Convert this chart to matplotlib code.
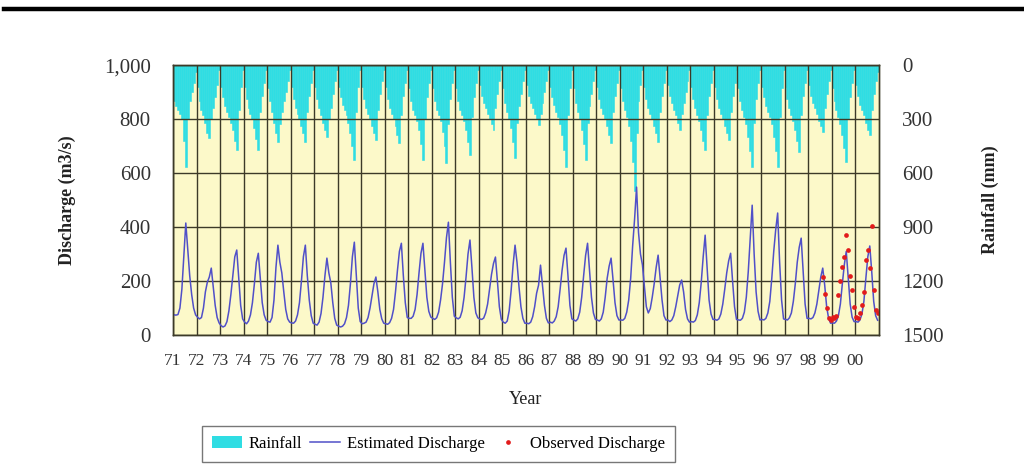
import numpy as np
import matplotlib
matplotlib.use("Agg")
import matplotlib.pyplot as plt
from matplotlib.lines import Line2D
from matplotlib.patches import Patch
from matplotlib.ticker import FuncFormatter

# ── data: monthly values, one row per year (71 … 00) ─────────────────────
years = ["71", "72", "73", "74", "75", "76", "77", "78", "79", "80",
         "81", "82", "83", "84", "85", "86", "87", "88", "89", "90",
         "91", "92", "93", "94", "95", "96", "97", "98", "99", "00"]

rain_mm = [
    [200, 230, 250, 270, 300, 420, 565, 300, 200, 150, 100, 40],
    [120, 200, 250, 280, 320, 380, 406, 300, 240, 180, 110, 30],
    [120, 180, 230, 260, 290, 320, 360, 420, 472, 250, 120, 30],
    [120, 190, 240, 270, 300, 350, 410, 472, 260, 170, 100, 30],
    [130, 200, 260, 320, 380, 426, 330, 260, 200, 150, 90, 30],
    [120, 190, 240, 270, 300, 340, 380, 426, 260, 170, 100, 30],
    [120, 190, 240, 280, 320, 360, 398, 300, 240, 160, 90, 30],
    [120, 180, 220, 250, 280, 320, 380, 450, 528, 260, 120, 30],
    [120, 190, 240, 270, 300, 340, 380, 417, 250, 160, 90, 30],
    [120, 190, 240, 270, 300, 340, 390, 435, 280, 170, 100, 30],
    [130, 200, 250, 280, 310, 360, 440, 528, 300, 180, 100, 30],
    [130, 200, 250, 280, 310, 370, 450, 546, 330, 190, 100, 30],
    [130, 200, 250, 280, 310, 360, 430, 500, 290, 180, 100, 30],
    [110, 170, 210, 240, 270, 300, 330, 361, 240, 160, 90, 30],
    [130, 210, 260, 300, 350, 430, 519, 320, 230, 160, 90, 30],
    [110, 170, 210, 240, 270, 300, 333, 270, 210, 150, 90, 30],
    [120, 180, 220, 260, 290, 330, 390, 470, 565, 280, 130, 30],
    [130, 210, 260, 300, 360, 440, 528, 320, 230, 160, 90, 30],
    [120, 190, 240, 270, 300, 340, 390, 435, 260, 170, 100, 30],
    [130, 200, 250, 290, 340, 420, 540, 700, 380, 200, 110, 30],
    [120, 190, 240, 270, 300, 340, 380, 426, 260, 170, 100, 30],
    [110, 170, 210, 250, 280, 320, 361, 270, 210, 150, 90, 30],
    [120, 190, 240, 280, 310, 360, 420, 472, 280, 170, 100, 30],
    [120, 190, 240, 270, 300, 340, 380, 417, 260, 170, 100, 30],
    [130, 200, 250, 290, 330, 400, 480, 565, 320, 190, 100, 30],
    [120, 180, 230, 260, 290, 330, 400, 480, 565, 290, 130, 30],
    [120, 190, 240, 280, 310, 360, 420, 481, 280, 170, 100, 30],
    [110, 170, 210, 240, 270, 310, 340, 370, 240, 160, 90, 30],
    [130, 200, 250, 290, 330, 390, 460, 537, 300, 180, 100, 30],
    [110, 170, 220, 250, 280, 320, 360, 389, 250, 160, 90, 40],
]

discharge_est = [
    [75, 74, 76, 100, 170, 290, 415, 320, 220, 150, 100, 75],
    [66, 60, 65, 100, 160, 196, 215, 248, 180, 110, 65, 45],
    [35, 30, 34, 50, 90, 150, 220, 290, 315, 210, 110, 60],
    [48, 42, 52, 75, 120, 190, 270, 303, 210, 120, 75, 55],
    [50, 48, 65, 130, 250, 333, 270, 230, 160, 95, 60, 48],
    [45, 44, 52, 75, 120, 200, 290, 333, 220, 130, 72, 44],
    [40, 37, 48, 80, 140, 220, 285, 230, 193, 120, 62, 37],
    [33, 30, 33, 42, 65, 110, 190, 290, 344, 220, 100, 50],
    [42, 44, 48, 65, 100, 145, 190, 215, 160, 95, 60, 44],
    [42, 40, 46, 62, 95, 160, 240, 310, 340, 220, 120, 65],
    [62, 62, 70, 95, 150, 230, 303, 340, 240, 140, 88, 67],
    [62, 58, 64, 85, 130, 190, 270, 360, 418, 270, 140, 70],
    [64, 60, 66, 90, 140, 215, 300, 352, 250, 140, 82, 64],
    [60, 58, 63, 82, 115, 170, 225, 265, 289, 200, 105, 58],
    [48, 44, 52, 90, 165, 260, 333, 270, 180, 105, 62, 44],
    [44, 42, 48, 68, 105, 155, 185, 259, 185, 110, 62, 45],
    [48, 45, 52, 68, 105, 170, 240, 295, 322, 220, 110, 60],
    [56, 52, 60, 85, 140, 220, 295, 340, 240, 140, 82, 58],
    [56, 52, 60, 85, 140, 210, 255, 285, 205, 120, 72, 56],
    [56, 55, 62, 85, 130, 210, 330, 430, 548, 380, 300, 260],
    [180, 105, 82, 98, 140, 190, 250, 296, 215, 130, 72, 56],
    [56, 50, 56, 72, 105, 145, 185, 204, 160, 95, 60, 48],
    [50, 48, 54, 75, 120, 195, 290, 370, 250, 130, 78, 58],
    [58, 55, 60, 78, 115, 170, 230, 275, 303, 200, 105, 58],
    [56, 55, 62, 85, 140, 235, 360, 481, 300, 160, 88, 56],
    [58, 56, 62, 82, 125, 210, 310, 390, 452, 270, 130, 60],
    [58, 56, 64, 82, 125, 190, 270, 325, 359, 240, 115, 62],
    [62, 60, 65, 82, 115, 165, 215, 248, 185, 105, 62, 44],
    [45, 44, 52, 72, 115, 190, 260, 310, 210, 115, 66, 50],
    [50, 48, 56, 78, 125, 210, 290, 330, 235, 125, 72, 55],
]

obs_month = [331, 332, 333, 334, 335, 336, 337, 338, 339, 340, 341, 342, 343,
             344, 345, 346, 347, 348, 349, 350, 351, 352, 353, 354, 355, 356,
             357, 358, 359]
obs_q = [216, 154, 99, 62, 55, 68, 62, 70, 148, 200, 253, 290, 370,
         315, 220, 167, 105, 68, 62, 80, 111, 160, 278, 315, 250, 404,
         167, 93, 81]

YELLOW = "#FCF9C9"
CYAN = "#2FDDE3"
BLUE = "#5050C8"
GRID = "#3c3a28"
RED = "#E21B1B"

rain = np.array(rain_mm).ravel()
q_est = np.array(discharge_est).ravel()
xm = np.arange(len(rain)) + 0.5

fig = plt.figure(figsize=(10.24, 4.68), dpi=100)
fig.add_artist(Line2D([0.004, 1.0], [0.98, 0.98], color="black", lw=3.2,
                      transform=fig.transFigure))

ax = fig.add_axes([0.169, 0.284, 0.689, 0.577])
ax2 = ax.twinx()
ax.set_zorder(2); ax.patch.set_visible(False)
ax2.set_zorder(1); ax2.patch.set_visible(True); ax2.set_facecolor(YELLOW)

# rainfall hanging from the top
ax2.bar(xm, rain, width=1.0, color=CYAN, edgecolor=CYAN, linewidth=0.4)
ax2.set_ylim(1500, 0)
ax2.set_yticks(range(0, 1501, 300))

# discharge
ax.plot(xm, q_est, color=BLUE, lw=1.1)
ax.plot(np.array(obs_month) + 0.5, obs_q, "o", color=RED, ms=3.4, mec="none")
ax.set_ylim(0, 1000)
ax.set_xlim(0, 360)
ax.set_yticks(range(0, 1001, 200))
ax.yaxis.set_major_formatter(FuncFormatter(lambda v, p: f"{int(v):,}"))
ax.set_xticks(np.arange(len(years)) * 12)
ax.set_xticklabels(years)

ax.grid(True, color=GRID, lw=1.0)
for a in (ax, ax2):
    for s in a.spines.values():
        s.set_color(GRID); s.set_linewidth(1.0)
    a.tick_params(length=0)

serif = "Liberation Serif"
ax.tick_params(axis="y", pad=16, labelsize=15, labelcolor="#333")
ax.tick_params(axis="x", pad=13, labelsize=12.5, labelcolor="#333")
ax2.tick_params(axis="y", pad=17, labelsize=15, labelcolor="#333")
for lab in ax.get_xticklabels() + ax.get_yticklabels() + ax2.get_yticklabels():
    lab.set_family(serif)

ax.set_ylabel("Discharge (m3/s)", family=serif, fontsize=13, weight="bold",
              color="#222", labelpad=20)
ax2.set_ylabel("Rainfall (mm)", family=serif, fontsize=13, weight="bold",
               color="#222", labelpad=27)
ax.set_xlabel("Year", family=serif, fontsize=13, color="#222", labelpad=16)

handles = [Patch(facecolor=CYAN, edgecolor="none"),
           Line2D([], [], color=BLUE, lw=1.1),
           Line2D([], [], marker="o", ls="none", color=RED, ms=3.4, mec="none")]
labels = ["Rainfall", "Estimated Discharge", "Observed Discharge"]
leg = fig.legend(handles, labels, loc="center", ncol=3,
                 bbox_to_anchor=(0.428, 0.051), frameon=True, fancybox=False,
                 edgecolor="#555", handlelength=1.8, handletextpad=0.4,
                 columnspacing=0.5, borderpad=0.6,
                 prop={"family": serif, "size": 12})
leg.get_frame().set_linewidth(1.0)

fig.savefig("out.png", dpi=100, facecolor="white")
